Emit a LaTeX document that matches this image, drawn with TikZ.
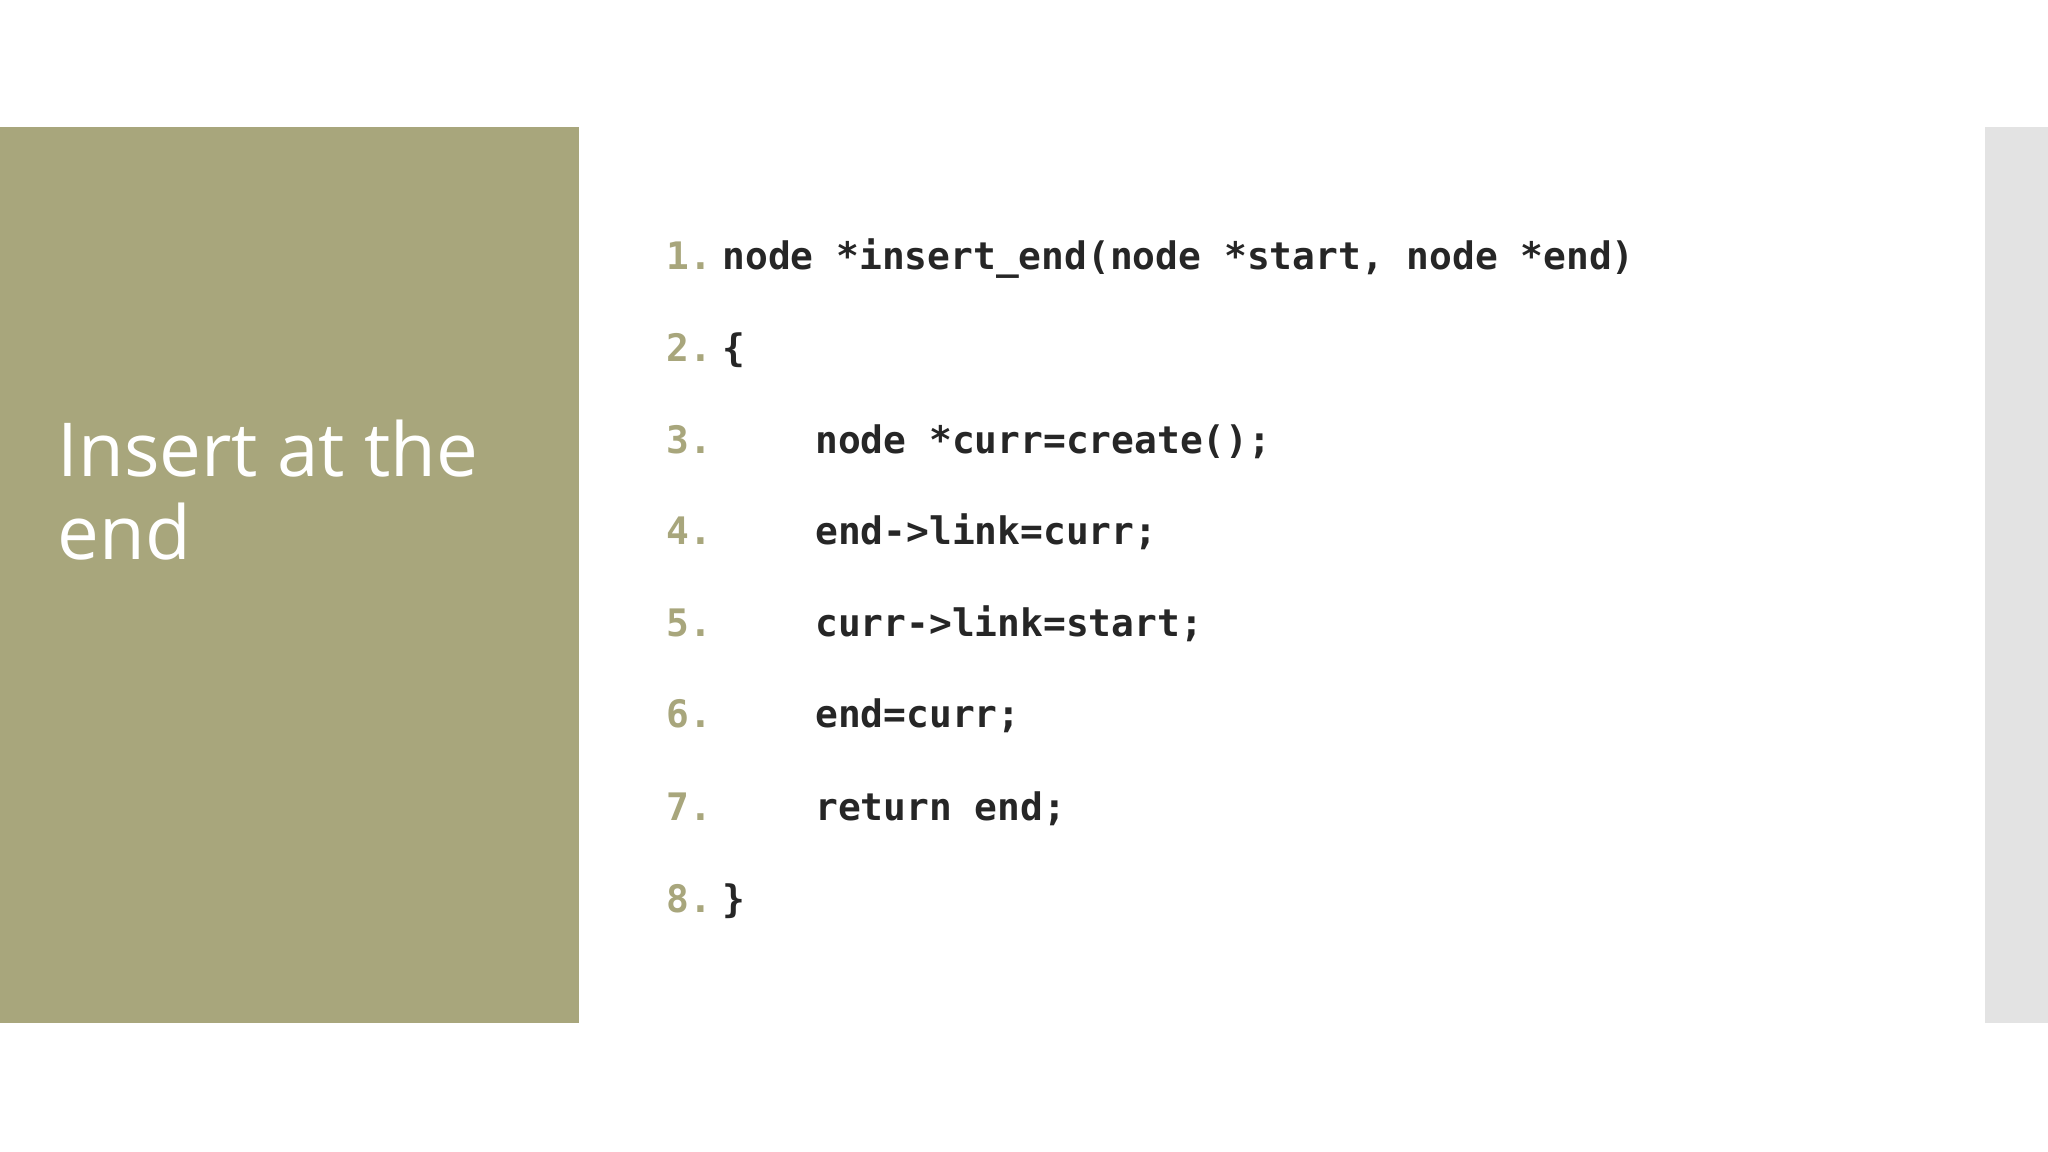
\documentclass[tikz,border=0pt]{standalone}
\usepackage{fontspec}
\setmainfont{Open Sans}
\newfontfamily\codefont{DejaVu Sans Mono}
\definecolor{olive}{HTML}{A8A67C}
\definecolor{barg}{HTML}{E3E3E3}
\definecolor{codec}{HTML}{262626}
\begin{document}
\begin{tikzpicture}[x=1pt,y=-1pt,
  num/.style={anchor=base west,inner sep=0,font=\codefont\bfseries\fontsize{29}{29}\selectfont,text=olive},
  code/.style={anchor=base west,inner sep=0,font=\codefont\bfseries\fontsize{29}{29}\selectfont,text=codec}]
\useasboundingbox (0,0) rectangle (1568,882);
\fill[white] (0,0) rectangle (1568,882);
\fill[olive] (0,97) rectangle (443,783);
\fill[barg] (1520,97) rectangle (1568,783);
\node[anchor=base west,inner sep=0,text=white,align=left,font=\fontsize{57}{63}\selectfont] (title) at (44,428) {Insert at the\\end};
\foreach \n/\y in {1/206,2/277,3/347,4/417,5/487,6/557,7/628,8/699}
  \node[num] (n\n) at (510,\y) {\n.};
\node[code] (c1) at (553,206) {node *insert\_end(node *start, node *end)};
\node[code] (c2) at (553,277) {\{};
\node[code] (c3) at (624,347) {node *curr=create();};
\node[code] (c4) at (624,417) {end->link=curr;};
\node[code] (c5) at (624,487) {curr->link=start;};
\node[code] (c6) at (624,557) {end=curr;};
\node[code] (c7) at (624,628) {return end;};
\node[code] (c8) at (553,699) {\}};
\end{tikzpicture}
\end{document}
